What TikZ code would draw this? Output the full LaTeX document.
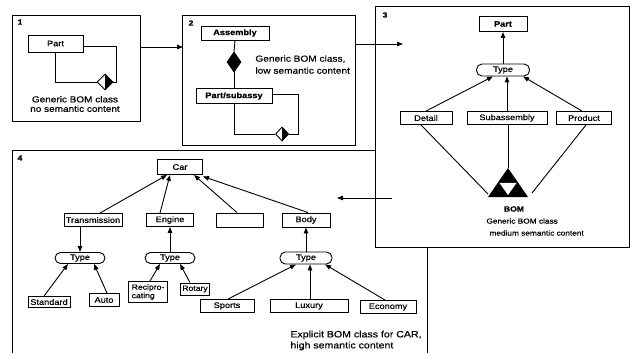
\documentclass[tikz,border=0pt]{standalone}
\usepackage{fontspec}
\setmainfont{Liberation Sans}[FakeStretch=1.15,FakeBold=0.5]
\usetikzlibrary{arrows.meta,shapes.geometric,calc}

\begin{document}
\begin{tikzpicture}[x=1pt,y=-1pt,line width=0.9pt,
  cls/.style={draw,line width=0.9pt,inner sep=0pt,font=\fontsize{8}{9}\selectfont},
  sz/.style 2 args={minimum width=#1,minimum height=#2},
  typ/.style={cls,rounded corners=5.5pt},
  arr/.style={-{Triangle[length=6pt,width=4.5pt]}},
  note/.style={align=center,inner sep=0pt},
  num/.style={font=\fontsize{7.5}{9}\selectfont\bfseries,inner sep=0pt},
  halfdia/.style={draw,shape=diamond,line width=0.9pt,inner sep=0pt,fill=white},
]
\useasboundingbox (0,0) rectangle (633,353);

% ---------------- panel 1 : generic class, no semantic content
\draw (12,15) rectangle (140,121);
\node[num] (n1) at (20,22) {1};
\node[cls,sz={55}{17}] (part1) at (55.5,43.5) {Part};
\node[halfdia,minimum width=16,minimum height=16] (d1) at (105,82) {};
\fill (d1.north) -- (d1.east) -- (d1.south) -- cycle;
\draw ([yshift=-2.5]part1.east) -| ([xshift=3]d1.east) -- (d1.east);
\draw (d1.west) -| (part1.south);
\node[note,font=\fontsize{8.7}{9.5}\selectfont] (t1) at (75,104) {Generic BOM class\\no semantic content};

% ---------------- panel 2 : generic class, low semantic content
\draw (182,15) rectangle (355,145);
\node[num] (n2) at (191,23) {2};
\node[cls,sz={68}{14}] (asm) at (235,33) {\bfseries Assembly};
\node[draw,shape=diamond,fill=black,inner sep=0pt,minimum width=14,minimum height=20] (d2) at (234,62) {};
\node[cls,sz={76}{15}] (psub) at (234,96) {\bfseries Part/subassy};
\draw (asm.south) -- (d2.north);
\draw (d2.south) -- (psub.north);
\node[halfdia,minimum width=13,minimum height=14] (d3) at (282,134) {};
\fill (d3.north) -- (d3.east) -- (d3.south) -- cycle;
\draw ([yshift=1.5]psub.east) -| ([xshift=9]d3.east) -- (d3.east);
\draw (d3.west) -| (psub.south);
\node[note,align=left,anchor=west,font=\fontsize{8.8}{12}\selectfont] (t2) at (255,64.5) {Generic BOM class,\\low semantic content};

% ---------------- panel 4 : explicit class for CAR (partly under panel 3)
\draw (12,353) -- (12,150) -- (427,150) -- (427,353);
\node[num] (n4) at (20,158) {4};
\node[cls,sz={45}{15}] (car) at (180,167) {Car};
\node[cls,sz={58}{13}] (trans) at (93,220) {Transmission};
\node[cls,sz={47}{13}] (engine) at (170,220) {Engine};
\node[cls,sz={47}{14}] (empty) at (240,220) {};
\node[cls,sz={48}{14}] (body) at (306,220) {Body};
\node[typ,sz={50}{11}] (typeA) at (80,258) {Type};
\node[typ,sz={50}{11}] (typeB) at (170,258) {Type};
\node[typ,sz={52}{12}] (typeC) at (306,258) {Type};
\node[cls,sz={42}{11}] (standard) at (49,302) {Standard};
\node[cls,sz={30}{13}] (auto) at (104,300) {Auto};
\node[cls,sz={39}{21},align=left,font=\fontsize{7.5}{8.5}\selectfont] (recip) at (148,292) {Recipro-\\cating};
\node[cls,sz={29}{12},font=\fontsize{7.5}{9}\selectfont] (rotary) at (195,289) {Rotary};
\node[cls,sz={54}{13}] (sports) at (227,306) {Sports};
\node[cls,sz={78}{13}] (luxury) at (309,306) {Luxury};
\node[cls,sz={56}{13}] (economy) at (388,307) {Economy};

\draw[arr] ([xshift=7]trans.north) -- ([xshift=-13]car.south);
\draw[arr] ([xshift=-10]engine.north) -- ([xshift=-10]car.south);
\draw[arr] ([xshift=-3]empty.north) -- ([xshift=14]car.south);
\draw[arr] ([xshift=2]body.north) -- ([yshift=-1.5]car.south east);
\draw[arr] ([xshift=-13]trans.south) -- (typeA.north);
\draw[arr] ([xshift=-5]standard.north) -- ([xshift=-12]typeA.south);
\draw[arr] ([xshift=3]auto.north) -- ([xshift=14]typeA.south);
\draw[arr] (typeB.north) -- (engine.south);
\draw[arr] ([xshift=2]recip.north) -- ([xshift=-10]typeB.south);
\draw[arr] ([xshift=-5]rotary.north) -- ([xshift=10]typeB.south);
\draw[arr] (typeC.north) -- (body.south);
\draw[arr] ([xshift=1]sports.north) -- ([xshift=-10]typeC.south);
\draw[arr] ([xshift=1]luxury.north) -- ([xshift=4]typeC.south);
\draw[arr] ([xshift=-3]economy.north) -- ([xshift=19]typeC.south);
\node[note,align=left,anchor=west,font=\fontsize{9.2}{11}\selectfont] (t4) at (290,340.5) {Explicit BOM class for CAR,\\high semantic content};

% ---------------- panel 3 : generic class, medium semantic content
\draw[fill=white] (375,6) rectangle (629,247);
\node[num] (n3) at (385,15) {3};
\node[cls,sz={48}{15}] (part3) at (503,24) {\bfseries Part};
\node[typ,sz={53}{12}] (type3) at (503,70) {Type};
\node[cls,sz={52}{13}] (detail) at (426,118) {Detail};
\node[cls,sz={80}{13}] (subasm) at (507,118) {Subassembly};
\node[cls,sz={55}{13}] (product) at (584,118) {Product};
\draw[arr] (type3.north) -- (part3.south);
\draw[arr] (detail.north) -- ([xshift=-10]type3.south);
\draw[arr] (subasm.north) -- ([xshift=4]type3.south);
\draw[arr] ([xshift=-2]product.north) -- ([xshift=20]type3.south);

% BOM symbol: black triangle with a white inverted triangle inside
\coordinate (apex) at (508,168);
\coordinate (bl) at (488,197);
\coordinate (br) at (528,197);
\fill (apex) -- (br) -- (bl) -- cycle;
\fill[white] (499.5,183) -- (516.5,183) -- (508,195) -- cycle;
\coordinate (tl) at (488,194);
\coordinate (tr) at (532,193);
\draw ([xshift=-5]detail.south) -- (tl);
\draw ([xshift=1]subasm.south) -- (apex);
\draw ([xshift=2]product.south) -- (tr);
\node[note,font=\fontsize{7.5}{9}\selectfont\bfseries] (bom) at (514,209) {BOM};
\node[note,anchor=west,font=\fontsize{7.2}{9}\selectfont] (t3a) at (486,221) {Generic BOM class};
\node[note,anchor=west,font=\fontsize{7.2}{9}\selectfont] (t3b) at (489,233) {medium semantic content};

% ---------------- flow between panels
\draw[arr] (140,47) -- (183,47);
\draw[arr] (355,44) -- (403,44);
\draw[arr] (392,198) -- (337,198);
\end{tikzpicture}
\end{document}
